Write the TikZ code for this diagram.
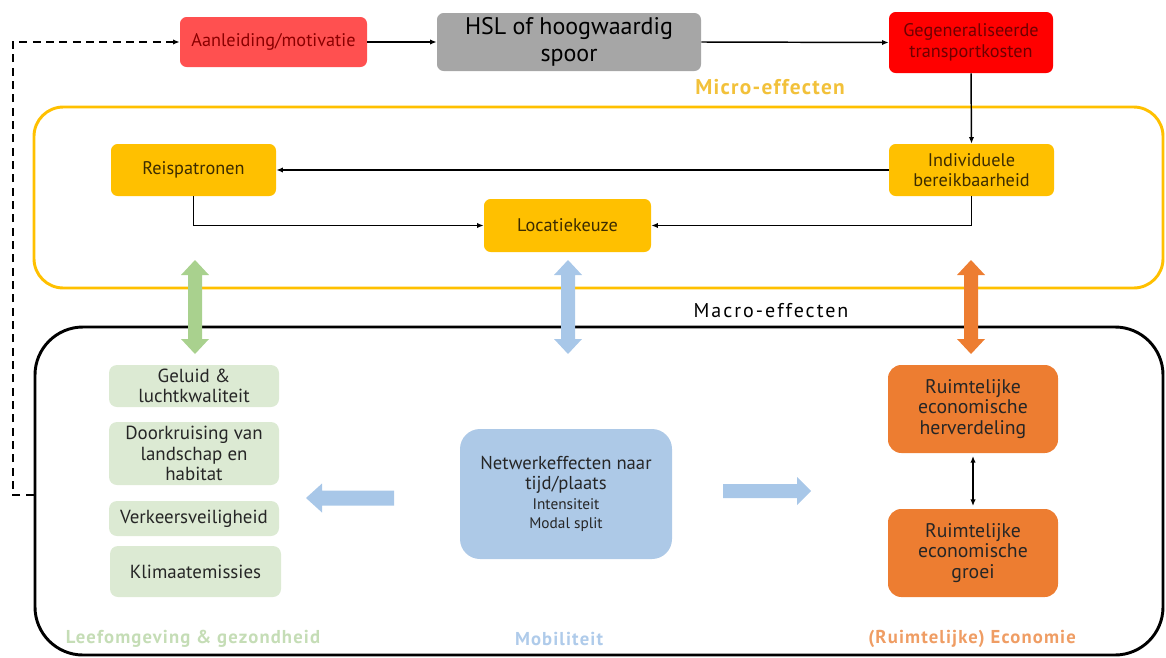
\documentclass[tikz,border=0pt]{standalone}
\usepackage{fontspec}
\setmainfont{PT Sans}
\usetikzlibrary{arrows.meta,calc}
\definecolor{lred}{HTML}{FF5050}
\definecolor{dred}{HTML}{8A0000}
\definecolor{hred}{HTML}{FF0000}
\definecolor{gry}{HTML}{A6A6A6}
\definecolor{yel}{HTML}{FFC000}
\definecolor{yeltxt}{HTML}{3D2C00}
\definecolor{microtxt}{HTML}{F2C13A}
\definecolor{lgreen}{HTML}{DCEAD3}
\definecolor{garrow}{HTML}{A9D18E}
\definecolor{gtxt}{HTML}{C5DDB6}
\definecolor{lblue}{HTML}{ADC9E7}
\definecolor{barrow}{HTML}{A8C7E8}
\definecolor{btxt}{HTML}{AFCBEA}
\definecolor{orng}{HTML}{ED7D31}
\definecolor{otxt}{HTML}{EF9D64}
\definecolor{darktxt}{HTML}{262626}
\newcommand\vdarrow[2]{\fill[#2] (#1,260) -- ++(14,15) -- ++(-7,0) -- ++(0,64) -- ++(7,0) -- (#1,354) -- ++(-14,-15) -- ++(7,0) -- ++(0,-64) -- ++(-7,0) -- cycle;}
\begin{document}
\begin{tikzpicture}[x=0.75pt,y=-0.75pt,
  wh/.style 2 args={minimum width=#1*0.75pt, minimum height=#2*0.75pt},
  box/.style={rounded corners=5pt, align=center, inner sep=0pt, font=\fontsize{13.7}{15.5}\selectfont},
  redbox/.style={box, fill=lred, text=dred},
  hredbox/.style={box, fill=hred, text=dred!80!black},
  graybox/.style={box, fill=gry, text=black, font=\fontsize{18}{20}\selectfont},
  yelbox/.style={box, fill=yel, text=yeltxt},
  greenbox/.style={box, fill=lgreen, text=darktxt, rounded corners=6pt, font=\fontsize{14.2}{15.2}\selectfont},
  bluebox/.style={box, fill=lblue, text=darktxt, rounded corners=15pt, font=\fontsize{14}{15}\selectfont},
  orbox/.style={box, fill=orng, text=black!85, rounded corners=10pt, font=\fontsize{14.8}{15.5}\selectfont},
  conn/.style={line width=1.1pt, -{Latex[length=5pt,width=4pt]}},
  grouplabel/.style={font=\bfseries\fontsize{14}{16}\selectfont\addfontfeature{LetterSpace=6}},
]
\useasboundingbox (0,0) rectangle (1166,657);
% containers
\node[draw=yel, line width=2.2pt, rounded corners=22pt, wh={1129}{181}] (micro) at (598.5,197.5) {};
\node[draw=black, line width=2.2pt, rounded corners=36pt, wh={1128}{328}] (macro) at (599,491) {};
% labels
\node[text=microtxt, font=\bfseries\fontsize{16}{18}\selectfont\addfontfeature{LetterSpace=6}] (microlbl) at (770,87) {Micro-effecten};
\node[text=black, font=\fontsize{15}{17}\selectfont\addfontfeature{LetterSpace=10}] (macrolbl) at (771,311) {Macro-effecten};
\node[grouplabel, text=gtxt] (leeflbl) at (193,639) {Leefomgeving \& gezondheid};
\node[grouplabel, text=btxt] (moblbl) at (559,639) {Mobiliteit};
\node[grouplabel, text=otxt] (ecolbl) at (972,639) {(Ruimtelijke) Economie};
% top row
\node[redbox, wh={187}{50}] (aan) at (273.5,42) {Aanleiding/motivatie};
\node[graybox, wh={264}{58}] (hsl) at (569,42) {HSL of hoogwaardig\\spoor};
\node[hredbox, wh={164}{61}] (gen) at (971,42.5) {Gegeneraliseerde\\transportkosten};
% micro
\node[yelbox, wh={165}{52}] (ind) at (971.5,170) {Individuele\\bereikbaarheid};
\node[yelbox, wh={165}{52}] (reis) at (193.5,170) {Reispatronen};
\node[yelbox, wh={167}{53}] (loc) at (567.5,225.5) {Locatiekeuze};
% macro - green
\node[greenbox, wh={170}{42}] (geluid) at (194,386) {Geluid \&\\luchtkwaliteit};
\node[greenbox, wh={170}{63}] (door) at (194,453.5) {Doorkruising van\\landschap en\\habitat};
\node[greenbox, wh={170}{35}] (verk) at (194,518.5) {Verkeersveiligheid};
\node[greenbox, wh={171}{51}] (klim) at (195.5,571.5) {Klimaatemissies};
% macro - blue
\node[bluebox, wh={212}{130}] (net) at (566,494) {Netwerkeffecten naar\\tijd/plaats\\{\fontsize{11.5}{13}\selectfont Intensiteit}\\[-1pt]{\fontsize{11.5}{13}\selectfont Modal split}};
% macro - orange
\node[orbox, wh={170}{88}] (herv) at (973,409) {Ruimtelijke\\economische\\herverdeling};
\node[orbox, wh={170}{88}] (groei) at (973,553) {Ruimtelijke\\economische\\groei};
% connectors
\coordinate (dcorner) at (13,495);
\draw[line width=1.1pt, dash pattern=on 6pt off 4pt, -{Latex[length=5pt,width=4pt]}] (macro.west |- dcorner) -- (dcorner) |- (aan.west);
\draw[conn] (aan.east) -- (hsl.west);
\draw[conn] (hsl.east) -- (gen.west);
\draw[conn] (gen.south) -- (ind.north);
\draw[conn] (ind.west) -- (reis.east);
\draw[conn] (reis.south) |- (loc.west);
\draw[conn] (ind.south) |- (loc.east);
\draw[line width=1.1pt, {Latex[length=5pt,width=4pt]}-{Latex[length=5pt,width=4pt]}, shorten <=2pt, shorten >=2pt] (herv.south) -- (groei.north);
% block arrows
\vdarrow{195}{garrow}
\vdarrow{568}{barrow}
\vdarrow{971}{orng}
\fill[barrow] (306,498) -- (322,483.5) -- (322,490.5) -- (394,490.5) -- (394,505.5) -- (322,505.5) -- (322,512.5) -- cycle;
\fill[barrow] (811,491) -- (797,477) -- (797,484) -- (723,484) -- (723,498) -- (797,498) -- (797,505) -- cycle;
\end{tikzpicture}
\end{document}
